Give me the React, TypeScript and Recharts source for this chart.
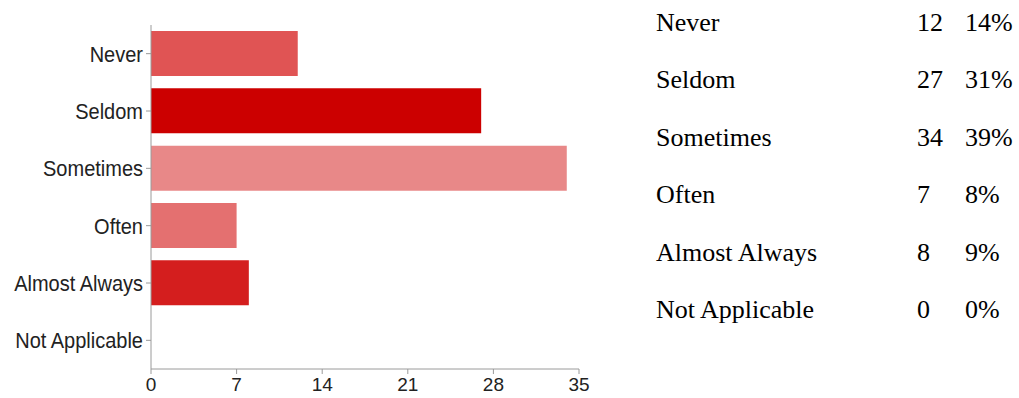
import React from 'react';
import { BarChart, Bar, XAxis, YAxis, Cell } from 'recharts';

const categories = ['Never', 'Seldom', 'Sometimes', 'Often', 'Almost Always', 'Not Applicable'];
const counts = [12, 27, 34, 7, 8, 0];
const percents = ['14%', '31%', '39%', '8%', '9%', '0%'];
const barColors = ['#E05454', '#CC0000', '#E88888', '#E47070', '#D41E1E', '#D41E1E'];
const xTicks = [0, 7, 14, 21, 28, 35];

const data = categories.map((c, i) => ({ name: c, value: counts[i] }));

const sans = '"Liberation Sans", Arial, Helvetica, sans-serif';
const serif = '"Liberation Serif", "Times New Roman", serif';

const YTick = (props: any) => {
  const { x, y, payload } = props;
  return (
    <text
      x={x}
      y={y}
      textAnchor="end"
      dominantBaseline="central"
      fill="#222"
      fontFamily={sans}
      fontSize={20}
      transform={`translate(0 ${y}) scale(1 1.12) translate(0 ${-y})`}
    >
      {payload.value}
    </text>
  );
};

const XTick = (props: any) => {
  const { x, y, payload } = props;
  return (
    <text
      x={x}
      y={y}
      textAnchor="middle"
      dy="0.71em"
      fill="#222"
      fontFamily={sans}
      fontSize={19}
    >
      {payload.value}
    </text>
  );
};

export default function App() {
  const rowBase = 31;
  const rowStep = 57.4;
  return (
    <div style={{ position: 'absolute', left: 0, top: 0, width: 1019, height: 398, background: '#fff', overflow: 'hidden' }}>
      <div style={{ position: 'absolute', left: 0, top: 0 }}>
        <BarChart
          width={620}
          height={398}
          data={data}
          layout="vertical"
          margin={{ top: 25, right: 41, bottom: 0, left: 0 }}
        >
          <XAxis
            type="number"
            domain={[0, 35]}
            ticks={xTicks}
            interval={0}
            height={29}
            stroke="#9a9a9a"
            tickSize={5}
            tickMargin={4}
            tick={<XTick />}
          />
          <YAxis
            type="category"
            dataKey="name"
            width={151}
            stroke="#9a9a9a"
            tickSize={5}
            tickMargin={3}
            interval={0}
            tick={<YTick />}
          />
          <Bar dataKey="value" barSize={45} isAnimationActive={false}>
            {data.map((d, i) => (
              <Cell key={d.name} fill={barColors[i]} />
            ))}
          </Bar>
        </BarChart>
      </div>
      <svg width={1019} height={398} style={{ position: 'absolute', left: 0, top: 0, pointerEvents: 'none' }}>
        {categories.map((c, i) => (
          <g key={c} fontFamily={serif} fontSize={26} fill="#000">
            <text x={656} y={rowBase + i * rowStep}>{c}</text>
            <text x={917} y={rowBase + i * rowStep}>{counts[i]}</text>
            <text x={965} y={rowBase + i * rowStep}>{percents[i]}</text>
          </g>
        ))}
      </svg>
    </div>
  );
}
